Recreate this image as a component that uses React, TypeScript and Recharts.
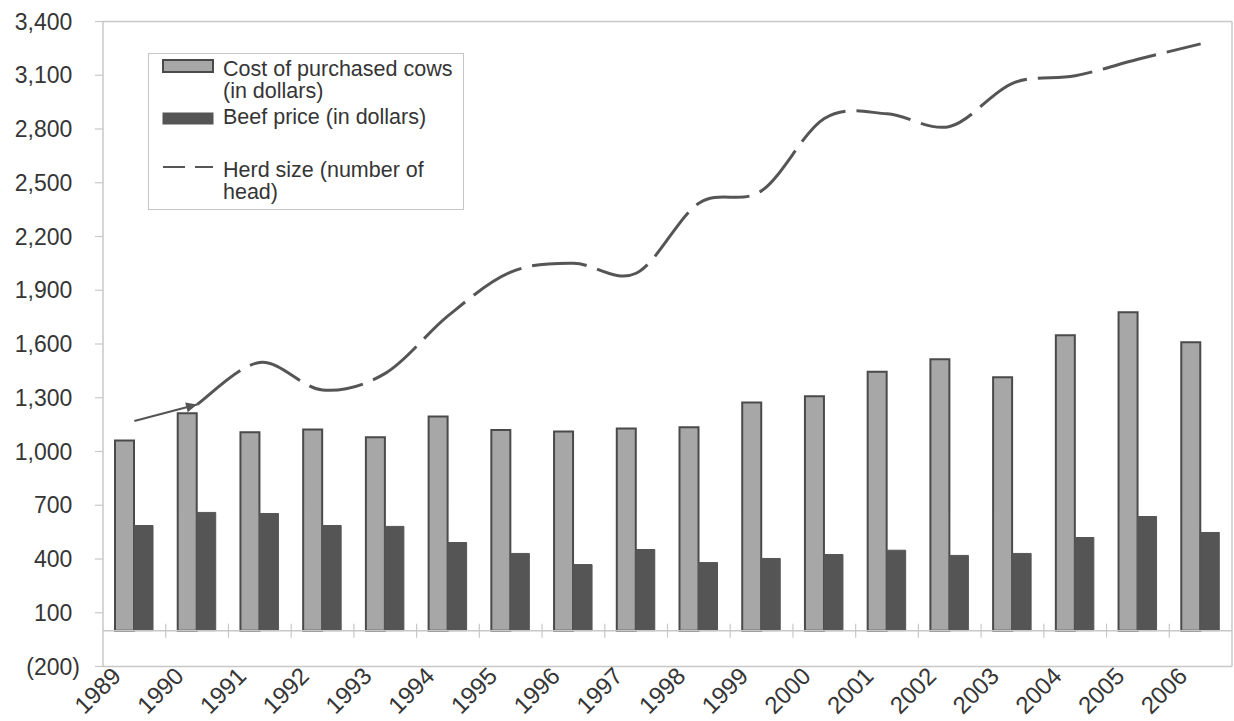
import React from 'react';
import { ComposedChart, Bar, Line, XAxis, YAxis, ReferenceLine, Legend } from 'recharts';

const years = ['1989', '1990', '1991', '1992', '1993', '1994', '1995', '1996', '1997', '1998', '1999', '2000', '2001', '2002', '2003', '2004', '2005', '2006'];
const costOfCows = [1062, 1213, 1107, 1123, 1079, 1196, 1120, 1112, 1129, 1135, 1274, 1308, 1445, 1515, 1414, 1649, 1777, 1610];
const beefPrice = [587, 660, 654, 587, 582, 492, 431, 369, 453, 380, 403, 425, 449, 420, 431, 520, 637, 548];
const herdSize = [1170, 1262, 1497, 1343, 1436, 1757, 2001, 2051, 1995, 2386, 2455, 2859, 2885, 2814, 3055, 3097, 3189, 3275];
const yTicks = [-200, 100, 400, 700, 1000, 1300, 1600, 1900, 2200, 2500, 2800, 3100, 3400];
const legendCost = ['Cost of purchased cows', '(in dollars)'];
const legendBeef = ['Beef price (in dollars)'];
const legendHerd = ['Herd size (number of', 'head)'];

const LIGHT = '#a7a7a7';
const DARK = '#555555';
const EDGE = '#4a4a4a';
const FRAME = '#c8c8c8';
const TEXT = '#353535';
const FONT = "'Liberation Sans', Arial, sans-serif";

const data = years.map((year, i) => ({
  year,
  cost: costOfCows[i],
  beef: beefPrice[i],
  herd: i >= 1 ? herdSize[i] : null,
  herdArrow: i <= 1 ? herdSize[i] : null,
}));

// Excel-like smoothing (Catmull-Rom through the points)
const excelSmooth: any = (context: any) => {
  let pts: number[][] = [];
  return {
    areaStart() {},
    areaEnd() {},
    lineStart() {
      pts = [];
    },
    point(x: number, y: number) {
      pts.push([+x, +y]);
    },
    lineEnd() {
      const n = pts.length;
      if (!n) return;
      context.moveTo(pts[0][0], pts[0][1]);
      for (let i = 0; i < n - 1; i++) {
        const p0 = pts[i === 0 ? 0 : i - 1];
        const p1 = pts[i];
        const p2 = pts[i + 1];
        const p3 = pts[i + 2 < n ? i + 2 : n - 1];
        context.bezierCurveTo(
          p1[0] + (p2[0] - p0[0]) / 6,
          p1[1] + (p2[1] - p0[1]) / 6,
          p2[0] - (p3[0] - p1[0]) / 6,
          p2[1] - (p3[1] - p1[1]) / 6,
          p2[0],
          p2[1]
        );
      }
    },
  };
};

const fmtY = (v: number) => (v < 0 ? `(${Math.abs(v).toLocaleString('en-US')})` : v.toLocaleString('en-US'));

const YTick = (props: any) => {
  const { x, y, payload } = props;
  const v = payload.value;
  // Excel "#,##0_);(#,##0)": positives leave room for the closing parenthesis
  const xx = v < 0 ? x : x - 7.7;
  return (
    <text x={xx} y={y} dy="0.355em" textAnchor="end" fill={TEXT} fontSize={23} fontFamily={FONT}>
      {fmtY(v)}
    </text>
  );
};

const XTick = (props: any) => {
  const { x, y, payload } = props;
  const ax = x - 12;
  const ay = y + 11;
  return (
    <text
      x={ax}
      y={ay}
      transform={`rotate(-45, ${ax}, ${ay})`}
      textAnchor="end"
      fill={TEXT}
      fontSize={24}
      fontFamily={FONT}
    >
      {payload.value}
    </text>
  );
};

const ZeroAxis = (props: any) => {
  const { x1, y1, x2, y2 } = props;
  const n = years.length;
  const step = (x2 - x1) / n;
  const marks = [];
  for (let k = 1; k < n; k++) {
    const xx = x1 + k * step;
    marks.push(<line key={k} x1={xx} x2={xx} y1={y1 - 7} y2={y1 + 7} stroke={FRAME} strokeWidth={1.2} />);
  }
  return (
    <g>
      <line x1={x1} y1={y1} x2={x2} y2={y2} stroke={FRAME} strokeWidth={1.5} />
      {marks}
    </g>
  );
};

const ArrowDot = (props: any) => {
  const { cx, cy, index, points } = props;
  if (index !== 1 || cx == null || cy == null) return <g key={`ad-${index}`} />;
  let ang = -16 * Math.PI / 180;
  if (points && points[0] && points[0].x != null) {
    ang = Math.atan2(cy - points[0].y, cx - points[0].x);
  }
  const L = 11;
  const W = 5;
  const bx = cx - L * Math.cos(ang);
  const by = cy - L * Math.sin(ang);
  const px = -Math.sin(ang) * W;
  const py = Math.cos(ang) * W;
  return (
    <polygon
      key={`ad-${index}`}
      points={`${cx},${cy} ${bx + px},${by + py} ${bx - px},${by - py}`}
      fill={DARK}
    />
  );
};

const LegendBox = () => {
  const ts = { fontSize: 21.5, fontFamily: FONT, fill: TEXT } as any;
  return (
    <svg width={317} height={158} style={{ display: 'block' }}>
      <rect x={0.5} y={0.5} width={315} height={156} fill="#ffffff" stroke="#c6c6c6" strokeWidth={1} />
      <rect x={15} y={7} width={50} height={12} fill={LIGHT} stroke={EDGE} strokeWidth={2} />
      {legendCost.map((t, i) => (
        <text key={t} x={75} y={23 + i * 22} {...ts}>{t}</text>
      ))}
      <rect x={15} y={60} width={50} height={11} fill={DARK} stroke={DARK} strokeWidth={1} />
      {legendBeef.map((t, i) => (
        <text key={t} x={75} y={71 + i * 22} {...ts}>{t}</text>
      ))}
      <line x1={15} y1={114} x2={65} y2={114} stroke={DARK} strokeWidth={2} strokeDasharray="22 10" />
      {legendHerd.map((t, i) => (
        <text key={t} x={75} y={124 + i * 22} {...ts}>{t}</text>
      ))}
    </svg>
  );
};

export default function App() {
  return (
    <div style={{ position: 'absolute', left: 0, top: 0, width: 1234, height: 721, background: '#fff' }}>
      <ComposedChart
        width={1234}
        height={721}
        data={data}
        margin={{ top: 21.5, right: 2, bottom: 0, left: 0 }}
        barGap={0}
        style={{ fontFamily: FONT }}
      >
        <XAxis
          dataKey="year"
          interval={0}
          axisLine={false}
          tickLine={false}
          tickSize={0}
          tickMargin={0}
          height={54.5}
          tick={<XTick />}
        />
        <YAxis
          type="number"
          domain={[-200, 3400]}
          ticks={yTicks}
          interval={0}
          width={103}
          axisLine={{ stroke: FRAME, strokeWidth: 1.5 }}
          tickLine={{ stroke: FRAME, strokeWidth: 1.2 }}
          tickSize={8}
          tickMargin={15}
          tick={<YTick />}
          allowDataOverflow
        />
        <ReferenceLine y={3400} stroke={FRAME} strokeWidth={1.5} />
        <ReferenceLine y={-200} stroke={FRAME} strokeWidth={1.5} />
        <ReferenceLine x="2006" position="end" stroke={FRAME} strokeWidth={1.5} />
        <ReferenceLine y={0} shape={(p: any) => <ZeroAxis {...p} />} />
        <Bar dataKey="cost" name="Cost of purchased cows (in dollars)" barSize={19} fill={LIGHT} stroke={EDGE} strokeWidth={2} isAnimationActive={false} />
        <Bar dataKey="beef" name="Beef price (in dollars)" barSize={19} fill={DARK} stroke={DARK} strokeWidth={1} isAnimationActive={false} />
        <Line
          dataKey="herdArrow"
          type="linear"
          stroke={DARK}
          strokeWidth={2.2}
          dot={(p: any) => <ArrowDot {...p} />}
          activeDot={false}
          legendType="none"
          isAnimationActive={false}
        />
        <Line
          dataKey="herd"
          name="Herd size (number of head)"
          type={excelSmooth}
          stroke={DARK}
          strokeWidth={3}
          strokeDasharray="55 11"
          dot={false}
          activeDot={false}
          isAnimationActive={false}
        />
        <Legend
          layout="vertical"
          align="center"
          verticalAlign="middle"
          content={() => <LegendBox />}
          wrapperStyle={{ left: 148, top: 53, width: 317, height: 158, right: 'auto', bottom: 'auto' }}
        />
      </ComposedChart>
    </div>
  );
}
